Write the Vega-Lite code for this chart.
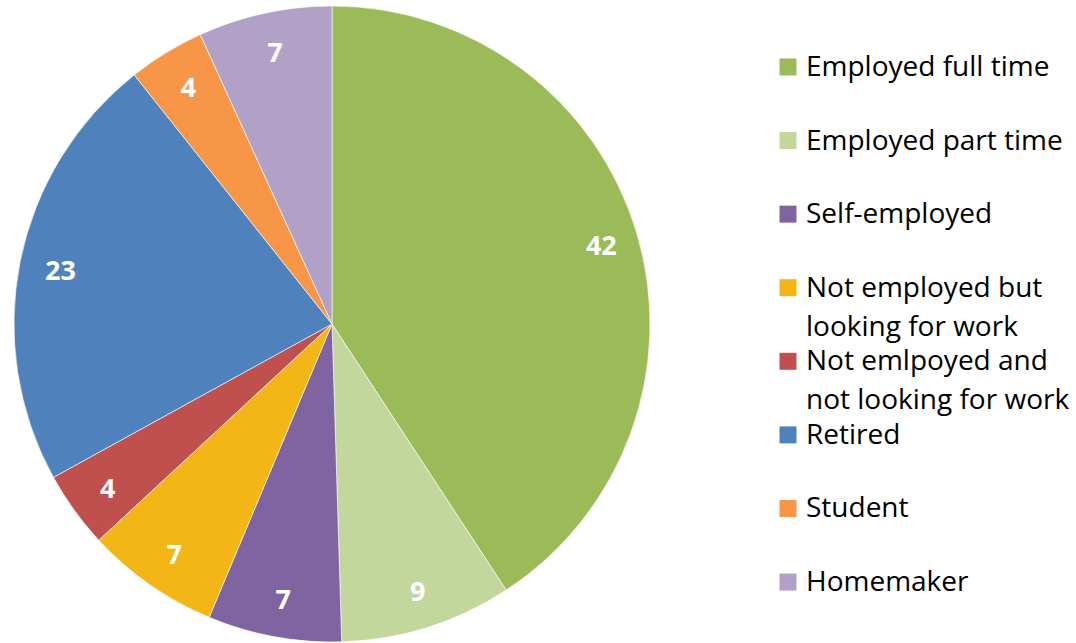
{
  "$schema": "https://vega.github.io/schema/vega-lite/v6.json",
  "padding": 0,
  "spacing": 0,
  "background": "white",
  "config": {"view": {"stroke": null}, "font": "Open Sans"},
  "datasets": {
    "d": [
      {"i": 1, "cat": "Employed full time", "value": 42},
      {"i": 2, "cat": "Employed part time", "value": 9},
      {"i": 3, "cat": "Self-employed", "value": 7},
      {"i": 4, "cat": "Not employed but\nlooking for work", "value": 7},
      {"i": 5, "cat": "Not emlpoyed and\nnot looking for work", "value": 4},
      {"i": 6, "cat": "Retired", "value": 23},
      {"i": 7, "cat": "Student", "value": 4},
      {"i": 8, "cat": "Homemaker", "value": 7}
    ]
  },
  "hconcat": [
    {
      "width": 664,
      "height": 648,
      "data": {"name": "d"},
      "encoding": {
        "theta": {"field": "value", "type": "quantitative", "stack": true},
        "order": {"field": "i", "type": "quantitative"}
      },
      "layer": [
        {
          "mark": {"type": "arc", "radius": 318, "stroke": "#ffffff", "strokeWidth": 0.6},
          "encoding": {
            "color": {
              "field": "i",
              "type": "nominal",
              "scale": {
                "domain": [1, 2, 3, 4, 5, 6, 7, 8],
                "range": ["#9BBB59", "#C3D69B", "#8064A2", "#F3B616", "#C0504D", "#4F81BD", "#F79646", "#B2A1C7"]
              },
              "legend": null
            }
          }
        },
        {
          "mark": {"type": "text", "radius": 279, "fill": "#ffffff", "fontWeight": "bold", "fontSize": 27, "baseline": "middle", "align": "center", "dx": 2, "dy": 3},
          "encoding": {
            "text": {"field": "value", "type": "quantitative"}
          }
        }
      ]
    },
    {
      "width": 248,
      "height": 649,
      "data": {"name": "d"},
      "encoding": {
        "y": {"field": "i", "type": "ordinal", "scale": {"type": "point", "padding": 0.91}, "axis": null}
      },
      "layer": [
        {
          "mark": {"type": "square", "size": 289, "opacity": 1, "filled": true},
          "encoding": {
            "color": {
              "field": "i",
              "type": "nominal",
              "scale": {
                "domain": [1, 2, 3, 4, 5, 6, 7, 8],
                "range": ["#9BBB59", "#C3D69B", "#8064A2", "#F3B616", "#C0504D", "#4F81BD", "#F79646", "#B2A1C7"]
              },
              "legend": null
            }
          }
        },
        {
          "mark": {"type": "text", "align": "left", "baseline": "alphabetic", "dx": 18, "dy": 9, "fontSize": 28, "lineHeight": 39, "lineBreak": "\n", "fill": "#000000"},
          "encoding": {
            "text": {"field": "cat", "type": "nominal"}
          }
        }
      ]
    }
  ]
}
